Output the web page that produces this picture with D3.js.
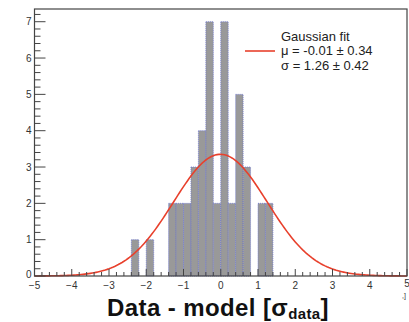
<!DOCTYPE html>
<html>
<head>
<meta charset="utf-8">
<script src="https://cdn.jsdelivr.net/npm/d3@7"></script>
<style>
  body { margin: 0; background: #fff; }
  svg { display: block; }
  text { font-family: "Liberation Sans", Arial, Helvetica, sans-serif; }
</style>
</head>
<body>
<svg id="chart"></svg>
<script>
// histogram, 50 bins of 0.2 between -5 and 5 (only non-empty bins listed)
var binLow = [-2.4, -2.0, -1.4, -1.2, -1.0, -0.8, -0.6, -0.4, -0.2, 0.0, 0.2, 0.4, 0.6, 1.0, 1.2];
var binCount = [1, 1, 2, 2, 2, 3, 4, 7, 2, 7, 2, 5, 3, 2, 2];
var binWidth = 0.2;

// gaussian fit parameters, as printed in the legend
var fitMean = -0.01;
var fitSigma = 1.26;
var fitPeak = 3.35;
var legendLines = ["Gaussian fit", "\u03bc = -0.01 \u00b1 0.34", "\u03c3 = 1.26 \u00b1 0.42"];

var xTicks = [-5, -4, -3, -2, -1, 0, 1, 2, 3, 4, 5];
var yTicks = [0, 1, 2, 3, 4, 5, 6, 7];

var width = 409, height = 322;
var svg = d3.select("#chart").attr("width", width).attr("height", height);

var x = d3.scaleLinear().domain([-5, 5]).range([34.5, 407]);
var y = d3.scaleLinear().domain([0, 7.35]).range([276, 9]);

// bars
svg.append("g")
    .selectAll("rect")
    .data(binLow)
    .enter().append("rect")
    .attr("x", function(d) { return x(d); })
    .attr("width", function(d) { return x(d + binWidth) - x(d); })
    .attr("y", function(d, i) { return y(binCount[i]); })
    .attr("height", function(d, i) { return y(0) - y(binCount[i]); })
    .attr("fill", "#999")
    .attr("stroke", "#6a74d0")
    .attr("stroke-width", 0.8)
    .attr("stroke-dasharray", "1,1");

// fit curve
var curveX = d3.range(-5, 5.0001, 0.05);
var line = d3.line()
    .x(function(d) { return x(d); })
    .y(function(d) {
        return y(fitPeak * Math.exp(-Math.pow(d - fitMean, 2) / (2 * fitSigma * fitSigma)));
    });
svg.append("path")
    .datum(curveX)
    .attr("d", line)
    .attr("fill", "none")
    .attr("stroke", "#e8402c")
    .attr("stroke-width", 1.6);

// frame
svg.append("rect")
    .attr("x", x(-5)).attr("y", y(7.35))
    .attr("width", x(5) - x(-5)).attr("height", y(0) - y(7.35))
    .attr("fill", "none").attr("stroke", "#444").attr("stroke-width", 1.2);

// y axis: ticks point inward
var yMinor = d3.range(0, 7.35, 0.2);
svg.append("g").selectAll("line").data(yMinor).enter().append("line")
    .attr("x1", x(-5)).attr("x2", function(d) { return x(-5) + (Math.abs(d - Math.round(d)) < 1e-6 ? 11 : 6); })
    .attr("y1", function(d) { return y(d); }).attr("y2", function(d) { return y(d); })
    .attr("stroke", "#444").attr("stroke-width", 1);
svg.append("g").selectAll("text").data(yTicks).enter().append("text")
    .attr("x", x(-5) - 3).attr("y", function(d) { return y(d) + (d === 0 ? 2 : 3.5); })
    .attr("text-anchor", "end").attr("font-size", 10).attr("fill", "#333")
    .text(function(d) { return d; });

// x axis
var xMinor = d3.range(-5, 5.0001, 0.2);
svg.append("g").selectAll("line").data(xMinor).enter().append("line")
    .attr("x1", function(d) { return x(d); }).attr("x2", function(d) { return x(d); })
    .attr("y1", y(0)).attr("y2", function(d) { return y(0) - (Math.abs(d - Math.round(d)) < 1e-6 ? 7 : 4); })
    .attr("stroke", "#444").attr("stroke-width", 1);
svg.append("g").selectAll("text").data(xTicks).enter().append("text")
    .attr("x", function(d) { return x(d); }).attr("y", function(d) { return d === 5 ? 287 : 289; })
    .attr("text-anchor", "middle").attr("font-size", 10).attr("fill", "#333")
    .text(function(d) { return d < 0 ? "\u2212" + Math.abs(d) : d; });
svg.append("text").attr("x", 402).attr("y", 298).attr("font-size", 7).attr("fill", "#333").text(",]");

// axis title
var title = svg.append("text")
    .attr("x", 218).attr("y", 316)
    .attr("text-anchor", "middle")
    .attr("font-size", 24).attr("font-weight", "bold").attr("fill", "#111")
    .attr("letter-spacing", 0.4);
title.append("tspan").text("Data - model [\u03c3");
title.append("tspan").attr("font-size", 15).attr("dy", 3).text("data");
title.append("tspan").attr("dy", -3).text("]");

// legend
svg.append("line")
    .attr("x1", 245).attr("x2", 275).attr("y1", 51).attr("y2", 51)
    .attr("stroke", "#e8402c").attr("stroke-width", 1.6);
svg.append("g").selectAll("text").data(legendLines).enter().append("text")
    .attr("x", 281).attr("y", function(d, i) { return 41 + i * 14.3; })
    .attr("font-size", 13).attr("fill", "#222")
    .text(function(d) { return d; });
</script>
</body>
</html>
